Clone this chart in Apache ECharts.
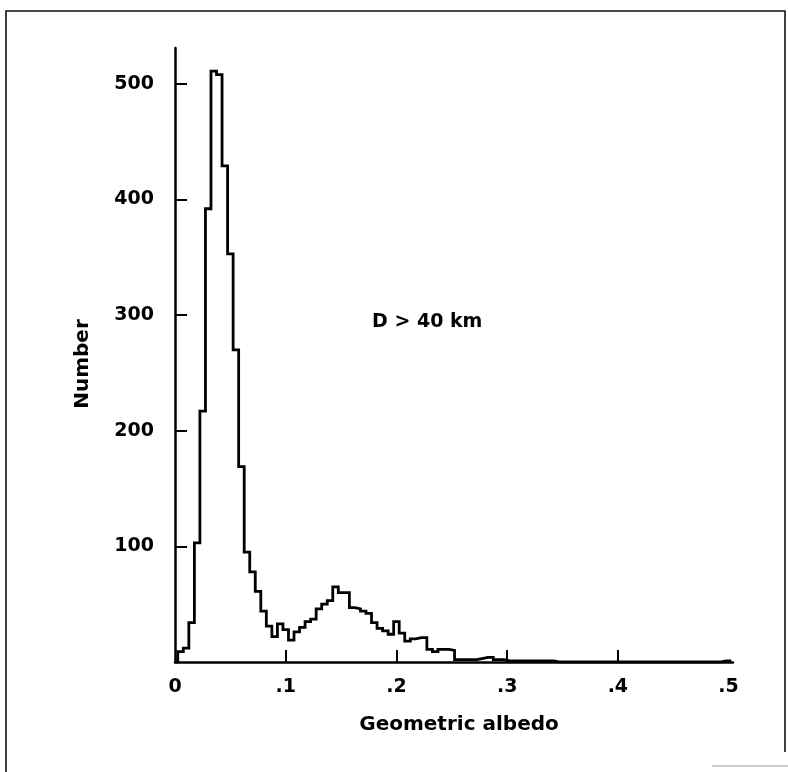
<!DOCTYPE html>
<html>
<head>
<meta charset="utf-8">
<script src="https://cdn.jsdelivr.net/npm/echarts@6/dist/echarts.min.js"></script>
<style>
  html, body { margin: 0; padding: 0; background: #fff; }
  #chart { width: 788px; height: 772px; }
</style>
</head>
<body>
<div id="chart"></div>
<script>
// ---- data ----
const binStart = 0.0025;      // left edge of first bin (geometric albedo)
const binWidth = 0.005;       // bin width
const counts = [
  9, 12, 34, 103, 217, 392, 511, 508, 429, 353,
  270, 169, 95, 78, 61, 44, 31, 22, 33, 28,
  19, 26, 30, 35, 37, 46, 50, 53, 65, 60,
  60, 47, 46, 44, 42, 34, 29, 27, 24, 35,
  25, 18, 20, 21, 21, 11, 9, 11, 11, 10,
  2, 2, 2, 2, 3, 4, 4, 2, 2, 1,
  1, 1, 1, 1, 1, 1, 1, 1, 0, 0,
  0, 0, 0, 0, 0, 0, 0, 0, 0, 0,
  0, 0, 0, 0, 0, 0, 0, 0, 0, 0,
  0, 0, 0, 0, 0, 0, 0, 0, 1, 1
];
const xTicks = [0, 0.1, 0.2, 0.3, 0.4, 0.5];
const xTickLabels = ['0', '.1', '.2', '.3', '.4', '.5'];
const yTicks = [100, 200, 300, 400, 500];
const xTitle = 'Geometric albedo';
const yTitle = 'Number';
const annotation = 'D > 40 km';

// ---- build step-line points from the bins ----
const points = [[0, 0]];
counts.forEach((c, i) => points.push([binStart + i * binWidth, c]));
points.push([binStart + counts.length * binWidth, counts[counts.length - 1]]);

const FONT = 'DejaVu Sans';
const chart = echarts.init(document.getElementById('chart'), null, { renderer: 'canvas' });

chart.setOption({
  animation: false,
  backgroundColor: '#fff',
  grid: { left: 175, top: 48, right: 55, bottom: 110, containLabel: false },
  xAxis: {
    type: 'value',
    min: 0, max: 0.504, interval: 0.1,
    splitLine: { show: false },
    axisLine: { show: true, onZero: false, lineStyle: { color: '#000', width: 2.5 } },
    axisTick: { show: true, inside: true, length: 12, customValues: [0.1, 0.2, 0.3, 0.4],
                lineStyle: { color: '#000', width: 2 } },
    axisLabel: {
      customValues: xTicks,
      margin: 16,
      color: '#000', fontFamily: FONT, fontWeight: 'bold', fontSize: 19,
      formatter: v => {
        const i = xTicks.findIndex(t => Math.abs(t - v) < 1e-9);
        return i >= 0 ? xTickLabels[i] : '';
      }
    }
  },
  yAxis: {
    type: 'value',
    min: 0, max: 531, interval: 100,
    offset: 3,
    splitLine: { show: false },
    axisLine: { show: true, lineStyle: { color: '#000', width: 2.5 } },
    axisTick: { show: true, inside: true, length: 12, customValues: yTicks,
                lineStyle: { color: '#000', width: 2 } },
    axisLabel: {
      customValues: yTicks,
      margin: 18,
      color: '#000', fontFamily: FONT, fontWeight: 'bold', fontSize: 19
    }
  },
  series: [{
    type: 'line',
    step: 'end',
    data: points,
    symbol: 'none',
    lineStyle: { color: '#000', width: 2.8, join: 'miter' },
    silent: true
  }],
  graphic: [
    { type: 'text', left: 372, top: 313,
      style: { text: annotation, fill: '#000', font: 'bold 19px "' + FONT + '"' } },
    { type: 'text', x: 83, y: 364, rotation: Math.PI / 2,
      style: { text: yTitle, fill: '#000', font: 'bold 20px "' + FONT + '"',
               textAlign: 'center', textVerticalAlign: 'middle' } },
    { type: 'text', x: 459, y: 725,
      style: { text: xTitle, fill: '#000', font: 'bold 20px "' + FONT + '"',
               textAlign: 'center', textVerticalAlign: 'middle' } },
    // scanned frame around the figure
    { type: 'polyline', shape: { points: [[6, 772], [6, 11], [785, 11], [785, 752]] },
      style: { stroke: '#111', lineWidth: 1.6, fill: null } },
    { type: 'line', shape: { x1: 712, y1: 766, x2: 788, y2: 766 },
      style: { stroke: '#999', lineWidth: 1.2 } }
  ]
});
</script>
</body>
</html>
